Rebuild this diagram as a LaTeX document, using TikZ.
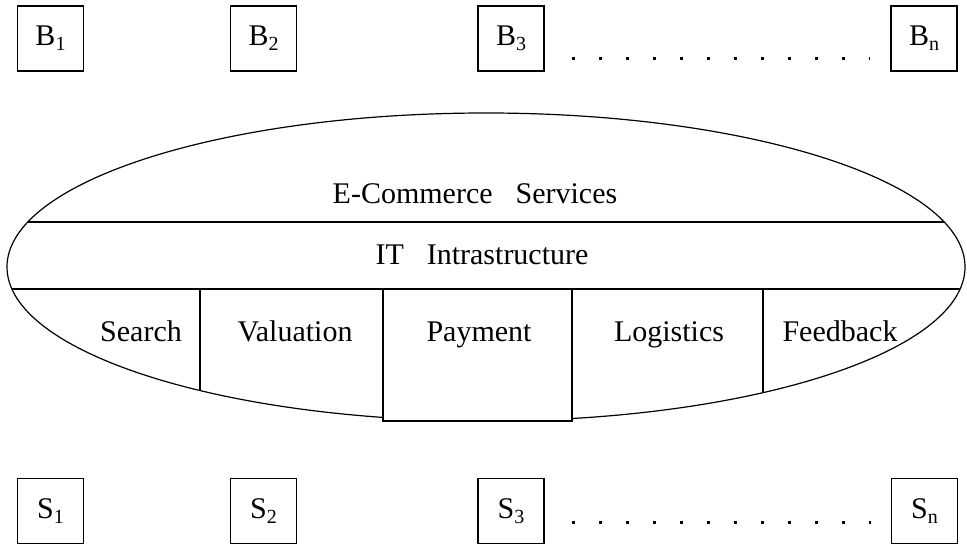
\documentclass[tikz,border=0pt]{standalone}
\usepackage{fontspec}
\setmainfont{Liberation Serif}
\usetikzlibrary{calc}

\newcommand\sub[1]{\raisebox{-2.5pt}{\fontsize{10}{10}\selectfont #1}}
\newcommand\gap{\hspace{11.5pt}}

\tikzset{
  party/.style={draw,line width=0.6pt,minimum width=33pt,minimum height=32.5pt,inner sep=0pt,font=\fontsize{15}{18}\selectfont},
  cell/.style={anchor=base,inner sep=0pt,font=\fontsize{15}{18}\selectfont},
  dotrow/.style={line width=1.5pt,dash pattern=on 1.5pt off 12pt}
}

\begin{document}
\begin{tikzpicture}[x=0.5pt,y=-0.5pt,line width=0.6pt]
    \useasboundingbox (0,0) rectangle (967,544);

    \begin{scope}[every node/.style=party]
        \node (b1) at (50.5, 38.5) {B\sub{1}};
        \node (b2) at (263.5, 38.5) {B\sub{2}};
        \node (b3) at (511, 38.5) {B\sub{3}};
        \node (bn) at (924, 38.5) {B\sub{n}};

        \node (s1) at (50.5, 511) {S\sub{1}};
        \node (s2) at (263.5, 511) {S\sub{2}};
        \node (s3) at (511, 511) {S\sub{3}};
        \node (sn) at (924.5, 511) {S\sub{n}};
    \end{scope}

    \draw[dotrow] ($(b3.east)+(27.5,20.5)$) -- ($(bn.west)+(-20,20.5)$);
    \draw[dotrow] ($(s3.east)+(27.5,11)$) -- ($(sn.west)+(-20,11)$);

    \coordinate (mkt) at (486, 267);
    \draw (mkt) ellipse [x radius=479, y radius=154];
    \begin{scope}
        \clip (mkt) ellipse [x radius=479, y radius=154];
        \draw (0,222) -- (967,222);
        \draw (0,289) -- (967,289);
        \draw (200,289) -- (200,430);
        \draw (763,289) -- (763,430);
    \end{scope}
    \draw[fill=white] (383,289) rectangle (572,421);

    \node[cell] (ecs) at (475, 204) {E-Commerce\gap Services};
    \node[cell] (itinf) at (482, 265) {IT\gap Intrastructure};
    \node[cell] (search) at (141, 342) {Search};
    \node[cell] (valuation) at (295, 342) {Valuation};
    \node[cell] (payment) at (479, 342) {Payment};
    \node[cell] (logistics) at (669, 342) {Logistics};
    \node[cell] (feedback) at (840, 342) {Feedback};
\end{tikzpicture}
\end{document}
